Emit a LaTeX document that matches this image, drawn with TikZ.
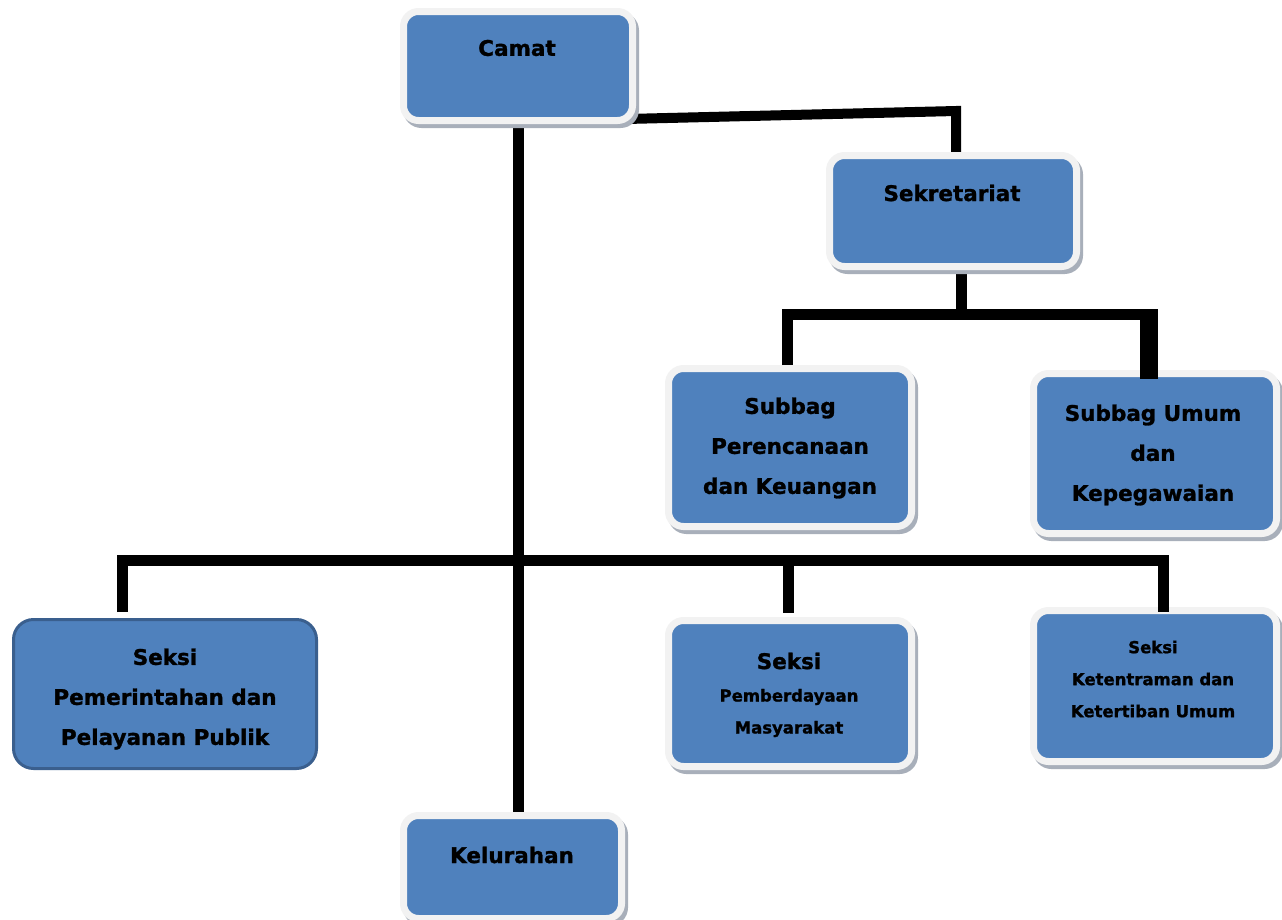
\documentclass[tikz,border=0pt]{standalone}
\usepackage{fontspec}
\setmainfont{DejaVu Sans}[BoldFeatures={FakeBold=1.3}]
\usetikzlibrary{shadows,backgrounds}
\definecolor{boxblue}{HTML}{4F81BD}
\definecolor{frame}{HTML}{F2F2F2}
\definecolor{shadowc}{HTML}{A8AFBA}
\definecolor{darkframe}{HTML}{3A5F8E}
\tikzset{
  orgbox/.style={rectangle, rounded corners=15pt, fill=boxblue, draw=frame, line width=7pt, inner sep=0pt,
    drop shadow={shadow xshift=3pt, shadow yshift=-4pt, fill=shadowc, draw=shadowc, line width=7pt, opacity=1}},
  plainbox/.style={rectangle, rounded corners=20pt, fill=boxblue, draw=darkframe, line width=3pt, inner sep=0pt},
  big/.style={font=\fontsize{21.5}{40}\selectfont\bfseries, align=center, inner sep=0pt},
  small/.style={font=\fontsize{16.5}{32}\selectfont\bfseries, align=center, inner sep=0pt},
  conn/.style={line width=11pt, black},
}
\begin{document}
\begin{tikzpicture}[x=1pt,y=-1pt]
\useasboundingbox (0,0) rectangle (1282,919);
% boxes
\node[orgbox, minimum width=229pt, minimum height=109pt] (camat) at (518,66) {};
\node[orgbox, minimum width=247pt, minimum height=111pt] (sek) at (953,211) {};
\node[orgbox, minimum width=243pt, minimum height=158pt] (subper) at (790,447.5) {};
\node[orgbox, minimum width=243pt, minimum height=160pt] (subum) at (1155,453.5) {};
\node[plainbox, minimum width=303pt, minimum height=149pt] (pem) at (165,694) {};
\node[orgbox, minimum width=243pt, minimum height=146pt] (pmb) at (790,693.5) {};
\node[orgbox, minimum width=243pt, minimum height=151pt] (ket) at (1155,686) {};
\node[orgbox, minimum width=218pt, minimum height=103pt] (kel) at (512.5,867) {};
% texts
\node[big] (tcamat) at (517,48) {Camat};
\node[big] (tsek) at (952,193) {Sekretariat};
\node[big] (tsubper) at (790,448) {Subbag\\Perencanaan\\dan Keuangan};
\node[big] (tsubum) at (1153,455) {Subbag Umum\\dan\\Kepegawaian};
\node[big] (tpem) at (165,699) {Seksi\\Pemerintahan dan\\Pelayanan Publik};
\node[big] (tpmb1) at (789,661) {Seksi};
\node[small] (tpmb2) at (789,713) {Pemberdayaan\\Masyarakat};
\node[small] (tket) at (1153,679) {Seksi\\Ketentraman dan\\Ketertiban Umum};
\node[big] (tkel) at (512,855) {Kelurahan};
% connectors
\coordinate (j1) at (956,111);
\coordinate (b1) at (781,314);
\coordinate (b2) at (116,560);
\begin{scope}[on background layer]
\draw[conn] (camat.south) -- (camat.south |- kel.north);
\draw[conn, line width=10pt] ([xshift=-10pt,yshift=5pt]camat.south east) -- (j1) -- (j1 |- sek.north);
\draw[conn] ([xshift=8pt]sek.south) -- ([xshift=8pt]sek.south |- b1);
\end{scope}
\draw[conn] ([xshift=-3pt]subper.north) -- ([xshift=-3pt]subper.north |- b1) -- ([xshift=3pt]subum.north |- b1);
\draw[conn, line width=18pt] ([xshift=-6pt]subum.north |- b1) -- ([xshift=-6pt,yshift=-8.5pt]subum.north);
\draw[conn] ([xshift=-43pt,yshift=6pt]pem.north) -- ([xshift=-43pt]pem.north |- b2) -- ([xshift=8pt]ket.north |- b2) -- ([xshift=8pt,yshift=-4.5pt]ket.north);
\draw[conn] ([xshift=-2pt]pmb.north |- b2) -- ([xshift=-2pt,yshift=4pt]pmb.north);
\end{tikzpicture}
\end{document}
